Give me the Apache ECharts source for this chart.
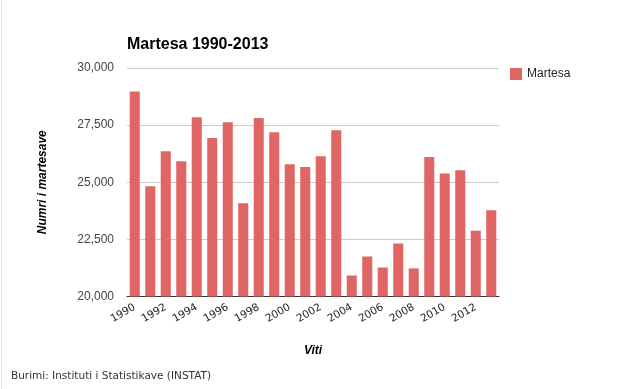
<!DOCTYPE html>
<html>
<head>
<meta charset="utf-8">
<script src="https://cdn.jsdelivr.net/npm/echarts@6/dist/echarts.min.js"></script>
<style>html,body{margin:0;padding:0;background:#fff}#c{width:633px;height:389px}</style>
</head>
<body>
<div id="c"></div>
<script>
const years = ['1990','1991','1992','1993','1994','1995','1996','1997','1998','1999','2000','2001','2002','2003','2004','2005','2006','2007','2008','2009','2010','2011','2012','2013'];
const martesa = [28970,24830,26360,25920,27850,26940,27630,24080,27810,27190,25790,25670,26140,27280,20920,21750,21270,22320,21230,26100,25380,25530,22880,23770];
const yTicks = [20000,22500,25000,27500,30000];

const chart = echarts.init(document.getElementById('c'), null, {renderer:'canvas'});
chart.setOption({
  animation:false,
  backgroundColor:'#fff',
  title:{text:'Martesa 1990-2013', left:122, top:32, textStyle:{fontFamily:'Liberation Sans, Arial', fontSize:16, fontWeight:'bold', color:'#000'}},
  legend:{data:['Martesa'], left:505, top:63, orient:'vertical', itemWidth:12, itemHeight:12, itemGap:4, icon:'rect',
    textStyle:{fontFamily:'Liberation Sans, Arial', fontSize:12, color:'#222'}},
  grid:{left:127, right:134, top:68, bottom:92.5, containLabel:false},
  xAxis:{type:'category', data:years, name:'Viti', nameLocation:'middle', nameGap:48,
    nameTextStyle:{fontFamily:'Liberation Sans, Arial', fontSize:12, fontStyle:'italic', fontWeight:'bold', color:'#000'},
    axisLine:{lineStyle:{color:'#333', width:1}}, axisTick:{show:false},
    axisLabel:{interval:1, rotate:30, margin:10, fontFamily:'DejaVu Sans', fontSize:10.5, color:'#222'}},
  yAxis:{type:'value', min:20000, max:30000, interval:2500, name:'Numri i martesave', nameLocation:'middle', nameGap:78, nameRotate:90,
    nameTextStyle:{fontFamily:'Liberation Sans, Arial', fontSize:12, fontStyle:'italic', fontWeight:'bold', color:'#000'},
    axisLine:{show:false}, axisTick:{show:false},
    splitLine:{lineStyle:{color:'#cccccc'}},
    axisLabel:{margin:13, fontFamily:'Liberation Sans, Arial', fontSize:12, color:'#444',
      formatter:v=>yTicks.includes(v)?v.toLocaleString('en-US'):''}},
  series:[{name:'Martesa', type:'bar', data:martesa, barCategoryGap:'35%', itemStyle:{color:'#e06666'}}],
  graphic:[
    {type:'line', shape:{x1:1.5,y1:0,x2:1.5,y2:389}, style:{stroke:'#e4e4e4', lineWidth:1}},
    {type:'text', left:11, top:371, style:{text:'Burimi: Instituti i Statistikave (INSTAT)', font:'10.5px DejaVu Sans', fill:'#333'}}
  ]
});
</script>
</body>
</html>
